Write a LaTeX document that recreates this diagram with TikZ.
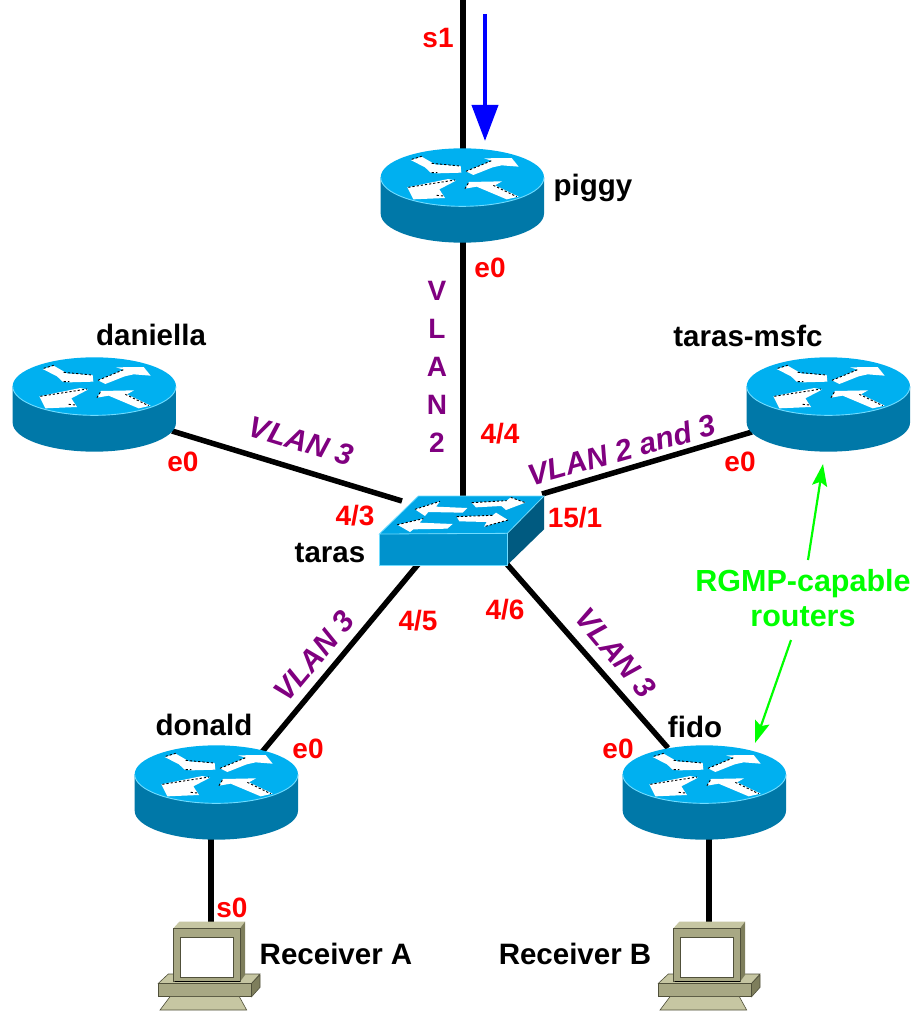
\documentclass[tikz,border=0pt]{standalone}
\usepackage{fontspec}
\setmainfont{Liberation Sans}
\usetikzlibrary{arrows.meta}
\definecolor{rtop}{HTML}{00B0F0}
\definecolor{rside}{HTML}{0078A8}
\definecolor{sfront}{HTML}{0092CC}
\definecolor{stop}{HTML}{00A6E6}
\definecolor{sright}{HTML}{005A80}
\definecolor{edge}{HTML}{70DCFF}
\definecolor{pclight}{HTML}{C6C6A2}
\definecolor{pcmid}{HTML}{A8A884}
\definecolor{pcdark}{HTML}{7E7E5C}
\definecolor{pcline}{HTML}{50503A}
\definecolor{lblpurple}{HTML}{800080}
\tikzset{
  zoomed/.style={x=0.33333pt,y=-0.33333pt},
  link/.style={line width=5.5pt,black},
  spots/.style={black,line width=0.9pt,dash pattern=on 2.2pt off 2pt},
  whitearrow/.style={fill=white,draw=none},
  lbl/.style={font=\bfseries\fontsize{29.5}{29.5}\selectfont,inner sep=0pt,text=black},
  redlbl/.style={lbl,text=red,font=\bfseries\fontsize{28}{28}\selectfont},
  vlan/.style={lbl,text=lblpurple,font=\bfseries\itshape\fontsize{30}{30}\selectfont},
  vlanv/.style={lbl,text=lblpurple,font=\bfseries\fontsize{28}{38}\selectfont,align=center},
  greenlbl/.style={lbl,text=green,font=\bfseries\fontsize{30.5}{35}\selectfont,align=center},
  greenarrow/.style={green,line width=2.2pt,-{Stealth[length=22pt,width=15pt,inset=4pt]}},
  bluearrow/.style={blue,line width=4pt,-{Stealth[length=36pt,width=26pt,inset=0pt]}},
  router/.pic={
    \begin{scope}[zoomed]
      \fill[rside] (62,142) -- (62,251) arc[start angle=180,end angle=0,x radius=245,y radius=87] -- (552,142) -- cycle;
      \fill[rtop] (307,142) ellipse[x radius=245,y radius=87];
      \draw[edge,line width=0.9pt] (62,142) arc[start angle=180,end angle=0,x radius=245,y radius=87];
      \fill[whitearrow] (152,90) -- (185,80) -- (225,103) -- (302,108) -- (304,128) -- (232,130) -- (212,128) -- (195,112) -- cycle;
      \fill[whitearrow] (318,124) -- (395,92) -- (372,85) -- (455,84) -- (476,110) -- (425,106) -- (398,112) -- (340,135) -- cycle;
      \fill[whitearrow] (142,172) -- (265,147) -- (288,152) -- (238,178) -- (255,204) -- (160,208) -- cycle;
      \fill[whitearrow] (315,176) -- (327,156) -- (426,154) -- (405,166) -- (476,200) -- (440,208) -- (350,170) -- cycle;
      \draw[spots] (155,88) -- (185,79) (215,100) -- (300,108) (215,128) -- (232,128);
      \draw[spots] (318,124) -- (395,92);
      \draw[spots] (145,172) -- (285,150) (230,196) -- (250,198);
      \draw[spots] (315,176) -- (327,156) (400,166) -- (470,200);
    \end{scope}
  },
  switchicon/.pic={
    \begin{scope}[zoomed]
      \fill[stop] (175,78) -- (552,78) -- (442,190) -- (58,192) -- cycle;
      \fill[sfront] (58,192) -- (442,190) -- (442,285) -- (58,285) -- cycle;
      \fill[sright] (442,190) -- (552,78) -- (552,178) -- (442,285) -- cycle;
      \draw[edge,line width=0.8pt] (175,78) -- (552,78) -- (442,190) -- (58,192) -- cycle;
      \draw[edge,line width=0.8pt] (58,192) -- (58,285) -- (442,285) -- (442,190);
      \fill[whitearrow] (165,118) -- (240,94) -- (228,110) -- (322,114) -- (308,128) -- (205,126) -- (195,138) -- cycle;
      \fill[whitearrow] (335,98) -- (440,92) -- (452,82) -- (496,98) -- (438,120) -- (424,108) -- (348,112) -- cycle;
      \fill[whitearrow] (112,164) -- (190,146) -- (178,158) -- (278,162) -- (262,176) -- (160,178) -- (150,186) -- cycle;
      \fill[whitearrow] (290,140) -- (398,136) -- (408,128) -- (444,150) -- (372,170) -- (380,156) -- (298,154) -- cycle;
      \draw[spots] (165,118) -- (240,94) (335,98) -- (440,92) (112,164) -- (190,146) (290,140) -- (398,136) (444,150) -- (372,170) (452,82) -- (496,98);
    \end{scope}
  },
  pcicon/.pic={
    \begin{scope}[zoomed]
      \fill[pclight,draw=pcline,line width=0.6pt] (55,250) -- (85,222) -- (360,222) -- (335,250) -- cycle;
      \fill[pcdark,draw=pcline,line width=0.6pt] (335,250) -- (360,225) -- (360,262) -- (335,290) -- cycle;
      \fill[pcmid,draw=pcline,line width=0.6pt] (55,250) rectangle (335,290);
      \fill[pclight,draw=pcline,line width=0.6pt] (90,290) -- (298,290) -- (320,330) -- (60,330) -- cycle;
      \fill[pclight] (100,85) -- (118,65) -- (315,65) -- (300,85) -- cycle;
      \fill[pcdark] (300,85) -- (315,65) -- (315,225) -- (300,245) -- cycle;
      \fill[pcmid,draw=pcline,line width=0.6pt] (100,85) rectangle (300,245);
      \fill[white,draw=pcline,line width=1pt] (120,112) rectangle (280,232);
      \draw[black,line width=1.2pt] (104,245) -- (300,245);
    \end{scope}
  }
}
\begin{document}
\begin{tikzpicture}[x=1pt,y=-1pt]
\useasboundingbox (0,0) rectangle (911,1011);
\fill[white] (0,0) rectangle (911,1011);
% anchor points
\coordinate (top) at (463,0);
\coordinate (piggy) at (463,177);
\coordinate (daniella) at (172,431);
\coordinate (msfc) at (752,432);
\coordinate (donald) at (262,752);
\coordinate (fido) at (668,748);
\coordinate (donaldb) at (211,830);
\coordinate (fidob) at (709,830);
\coordinate (taras) at (463,530);
\coordinate (tarasw) at (402,501);
\coordinate (tarase) at (542,494);
\coordinate (tarassw) at (420,562);
\coordinate (tarasse) at (505,562);
\coordinate (pca) at (211,928);
\coordinate (pcb) at (709,928);
% connectors
\draw[link] (top) -- (piggy);
\draw[link] (piggy) -- (taras);
\draw[link] (daniella) -- (tarasw);
\draw[link] (msfc) -- (tarase);
\draw[link] (donald) -- (tarassw);
\draw[link] (fido) -- (tarasse);
\draw[link] (donaldb) -- (pca);
\draw[link] (fidob) -- (pcb);
% icons
\pic at (360,130) {router};
\pic at (-8,339) {router};
\pic at (726,339) {router};
\pic at (114,727) {router};
\pic at (602,727) {router};
\pic at (360,470) {switchicon};
\pic at (140,900) {pcicon};
\pic at (640,900) {pcicon};
% arrows
\coordinate (blueS) at (485,14);
\coordinate (blueE) at (485,141);
\draw[bluearrow] (blueS) -- (blueE);
\node[greenlbl] (rgmp) at (803,598) {RGMP-capable\\routers};
\coordinate (g1s) at (808,560);
\coordinate (g1e) at (823,464);
\coordinate (g2s) at (791,640);
\coordinate (g2e) at (755,743);
\draw[greenarrow] (g1s) -- (g1e);
\draw[greenarrow] (g2s) -- (g2e);
% labels
\node[redlbl] (l1) at (438,38) {s1};
\node[redlbl] (l2) at (490,268) {e0};
\node[vlanv] (l3) at (437,367) {V\\L\\A\\N\\2};
\node[lbl] (l4) at (593,188) {piggy};
\node[lbl] (l5) at (151,335) {daniella};
\node[lbl] (l6) at (748,336) {taras-msfc};
\node[vlan,rotate=-17] (l7) at (301,441) {VLAN 3};
\node[redlbl] (l8) at (183,462) {e0};
\node[redlbl] (l9) at (355,516) {4/3};
\node[lbl] (l10) at (330,553) {taras};
\node[redlbl] (l11) at (500,434) {4/4};
\node[vlan,rotate=15.5] (l12) at (622,450) {VLAN 2 and 3};
\node[redlbl] (l13) at (575,518) {15/1};
\node[redlbl] (l14) at (740,462) {e0};
\node[redlbl] (l15) at (418,621) {4/5};
\node[redlbl] (l16) at (505,610) {4/6};
\node[vlan,rotate=50] (l17) at (314,656) {VLAN 3};
\node[vlan,rotate=-50] (l18) at (616,653) {VLAN 3};
\node[lbl] (l19) at (204,725) {donald};
\node[lbl] (l20) at (695,727) {fido};
\node[redlbl] (l21) at (308,749) {e0};
\node[redlbl] (l22) at (618,749) {e0};
\node[redlbl] (l23) at (232,908) {s0};
\node[lbl] (l24) at (336,954) {Receiver A};
\node[lbl] (l25) at (575,954) {Receiver B};
\end{tikzpicture}
\end{document}
